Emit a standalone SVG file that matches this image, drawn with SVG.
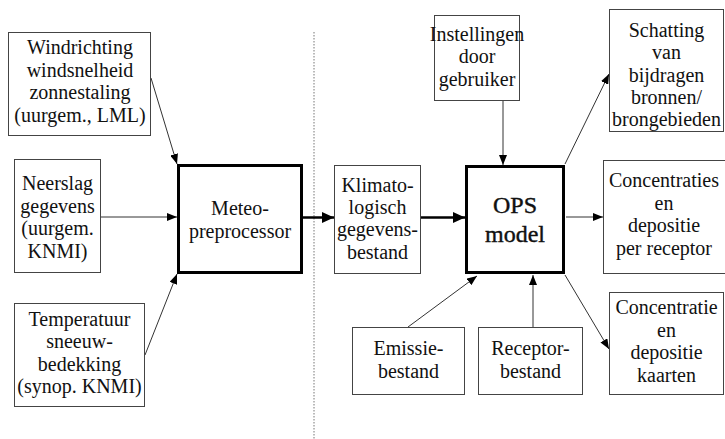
<svg xmlns="http://www.w3.org/2000/svg" width="725" height="439" viewBox="0 0 725 439">
  <defs>
    <marker id="head" markerWidth="10" markerHeight="8" refX="10" refY="4" orient="auto" markerUnits="userSpaceOnUse">
      <path d="M0,0 L10,4 L0,8 Z" fill="#000"/>
    </marker>
    <marker id="headBig" markerWidth="12" markerHeight="11" refX="12" refY="5.5" orient="auto" markerUnits="userSpaceOnUse">
      <path d="M0,0 L12,5.5 L0,11 Z" fill="#000"/>
    </marker>
  </defs>

  <rect width="725" height="439" fill="#fff"/>

  <!-- separator between meteo part and model part -->
  <line x1="314" y1="32" x2="314" y2="439" stroke="#777" stroke-width="1" stroke-dasharray="1.5 1.5"/>

  <g id="connectors" fill="none">
    <g stroke="#333" stroke-width="1" marker-end="url(#head)">
      <line x1="151" y1="78" x2="177" y2="164"/>
      <line x1="101" y1="217" x2="177" y2="217"/>
      <line x1="145" y1="355" x2="177" y2="274"/>
      <line x1="503" y1="101" x2="503" y2="165"/>
      <line x1="565" y1="164" x2="609" y2="74"/>
      <line x1="566" y1="217" x2="603" y2="217"/>
      <line x1="565" y1="275" x2="609" y2="349"/>
      <line x1="408" y1="327" x2="477" y2="276"/>
      <line x1="533" y1="327" x2="533" y2="275"/>
    </g>
    <g stroke="#000" stroke-width="2.5" marker-end="url(#headBig)">
      <line x1="303" y1="217.5" x2="334" y2="217.5"/>
      <line x1="421" y1="217.5" x2="465" y2="217.5"/>
    </g>
  </g>

  <g id="wind">
    <rect x="8.5" y="32.5" width="142" height="103" fill="#fff" stroke="#444"/>
    <text x="80" y="54" font-family="Liberation Serif" font-size="20" fill="#111" text-anchor="middle">Windrichting</text>
    <text x="80" y="76.5" font-family="Liberation Serif" font-size="20" fill="#111" text-anchor="middle">windsnelheid</text>
    <text x="80" y="99" font-family="Liberation Serif" font-size="20" fill="#111" text-anchor="middle">zonnestaling</text>
    <text x="80" y="121.5" font-family="Liberation Serif" font-size="20" fill="#111" text-anchor="middle">(uurgem., LML)</text>
  </g>

  <g id="neerslag">
    <rect x="14.5" y="159.5" width="86" height="113" fill="#fff" stroke="#444"/>
    <text x="57.5" y="190" font-family="Liberation Serif" font-size="20" fill="#111" text-anchor="middle">Neerslag</text>
    <text x="57.5" y="212.5" font-family="Liberation Serif" font-size="20" fill="#111" text-anchor="middle">gegevens</text>
    <text x="57.5" y="235" font-family="Liberation Serif" font-size="20" fill="#111" text-anchor="middle">(uurgem.</text>
    <text x="57.5" y="257.5" font-family="Liberation Serif" font-size="20" fill="#111" text-anchor="middle">KNMI)</text>
  </g>

  <g id="temperatuur">
    <rect x="14.5" y="303.5" width="130" height="103" fill="#fff" stroke="#444"/>
    <text x="79.5" y="325.5" font-family="Liberation Serif" font-size="20" fill="#111" text-anchor="middle">Temperatuur</text>
    <text x="79.5" y="348" font-family="Liberation Serif" font-size="20" fill="#111" text-anchor="middle">sneeuw-</text>
    <text x="79.5" y="370.5" font-family="Liberation Serif" font-size="20" fill="#111" text-anchor="middle">bedekking</text>
    <text x="79.5" y="393" font-family="Liberation Serif" font-size="20" fill="#111" text-anchor="middle">(synop. KNMI)</text>
  </g>

  <g id="meteo">
    <rect x="178.5" y="165.5" width="123" height="107" fill="#fff" stroke="#000" stroke-width="3"/>
    <text x="240" y="215" font-family="Liberation Serif" font-size="20" fill="#111" text-anchor="middle">Meteo-</text>
    <text x="240" y="237.5" font-family="Liberation Serif" font-size="20" fill="#111" text-anchor="middle">preprocessor</text>
  </g>

  <g id="klimato">
    <rect x="334.5" y="165.5" width="86" height="108" fill="#fff" stroke="#444"/>
    <text x="377.5" y="191.5" font-family="Liberation Serif" font-size="20" fill="#111" text-anchor="middle">Klimato-</text>
    <text x="377.5" y="214" font-family="Liberation Serif" font-size="20" fill="#111" text-anchor="middle">logisch</text>
    <text x="377.5" y="236" font-family="Liberation Serif" font-size="20" fill="#111" text-anchor="middle">gegevens-</text>
    <text x="377.5" y="258.5" font-family="Liberation Serif" font-size="20" fill="#111" text-anchor="middle">bestand</text>
  </g>

  <g id="instellingen">
    <rect x="434.5" y="15.5" width="85" height="85" fill="#fff" stroke="#444"/>
    <text x="477" y="40.5" font-family="Liberation Serif" font-size="20" fill="#111" text-anchor="middle">Instellingen</text>
    <text x="477" y="63" font-family="Liberation Serif" font-size="20" fill="#111" text-anchor="middle">door</text>
    <text x="477" y="85.5" font-family="Liberation Serif" font-size="20" fill="#111" text-anchor="middle">gebruiker</text>
  </g>

  <g id="ops">
    <rect x="466.5" y="166.5" width="97" height="106" fill="#fff" stroke="#000" stroke-width="3"/>
    <text x="515" y="213" font-family="Liberation Serif" font-size="24" fill="#111" stroke="#111" stroke-width="0.4" text-anchor="middle">OPS</text>
    <text x="515" y="242" font-family="Liberation Serif" font-size="24" fill="#111" stroke="#111" stroke-width="0.4" text-anchor="middle">model</text>
  </g>

  <g id="schatting">
    <rect x="609.5" y="9.5" width="114" height="122" fill="#fff" stroke="#444"/>
    <text x="666.5" y="37" font-family="Liberation Serif" font-size="20" fill="#111" text-anchor="middle">Schatting</text>
    <text x="666.5" y="59" font-family="Liberation Serif" font-size="20" fill="#111" text-anchor="middle">van</text>
    <text x="666.5" y="81.5" font-family="Liberation Serif" font-size="20" fill="#111" text-anchor="middle">bijdragen</text>
    <text x="666.5" y="104" font-family="Liberation Serif" font-size="20" fill="#111" text-anchor="middle">bronnen/</text>
    <text x="666.5" y="126" font-family="Liberation Serif" font-size="20" fill="#111" text-anchor="middle">brongebieden</text>
  </g>

  <g id="concentraties">
    <rect x="603.5" y="160.5" width="130" height="113" fill="#fff" stroke="#444"/>
    <text x="664" y="187" font-family="Liberation Serif" font-size="20" fill="#111" text-anchor="middle">Concentraties</text>
    <text x="664" y="209.5" font-family="Liberation Serif" font-size="20" fill="#111" text-anchor="middle">en</text>
    <text x="664" y="232" font-family="Liberation Serif" font-size="20" fill="#111" text-anchor="middle">depositie</text>
    <text x="664" y="254.5" font-family="Liberation Serif" font-size="20" fill="#111" text-anchor="middle">per receptor</text>
  </g>

  <g id="concentratie">
    <rect x="609.5" y="292.5" width="114" height="102" fill="#fff" stroke="#444"/>
    <text x="666.5" y="314" font-family="Liberation Serif" font-size="20" fill="#111" text-anchor="middle">Concentratie</text>
    <text x="666.5" y="336.5" font-family="Liberation Serif" font-size="20" fill="#111" text-anchor="middle">en</text>
    <text x="666.5" y="359" font-family="Liberation Serif" font-size="20" fill="#111" text-anchor="middle">depositie</text>
    <text x="666.5" y="381.5" font-family="Liberation Serif" font-size="20" fill="#111" text-anchor="middle">kaarten</text>
  </g>

  <g id="emissie">
    <rect x="352.5" y="327.5" width="112" height="67" fill="#fff" stroke="#444"/>
    <text x="408.5" y="355" font-family="Liberation Serif" font-size="20" fill="#111" text-anchor="middle">Emissie-</text>
    <text x="408.5" y="377.5" font-family="Liberation Serif" font-size="20" fill="#111" text-anchor="middle">bestand</text>
  </g>

  <g id="receptor">
    <rect x="478.5" y="327.5" width="104" height="67" fill="#fff" stroke="#444"/>
    <text x="530.5" y="355" font-family="Liberation Serif" font-size="20" fill="#111" text-anchor="middle">Receptor-</text>
    <text x="530.5" y="377.5" font-family="Liberation Serif" font-size="20" fill="#111" text-anchor="middle">bestand</text>
  </g>
</svg>
